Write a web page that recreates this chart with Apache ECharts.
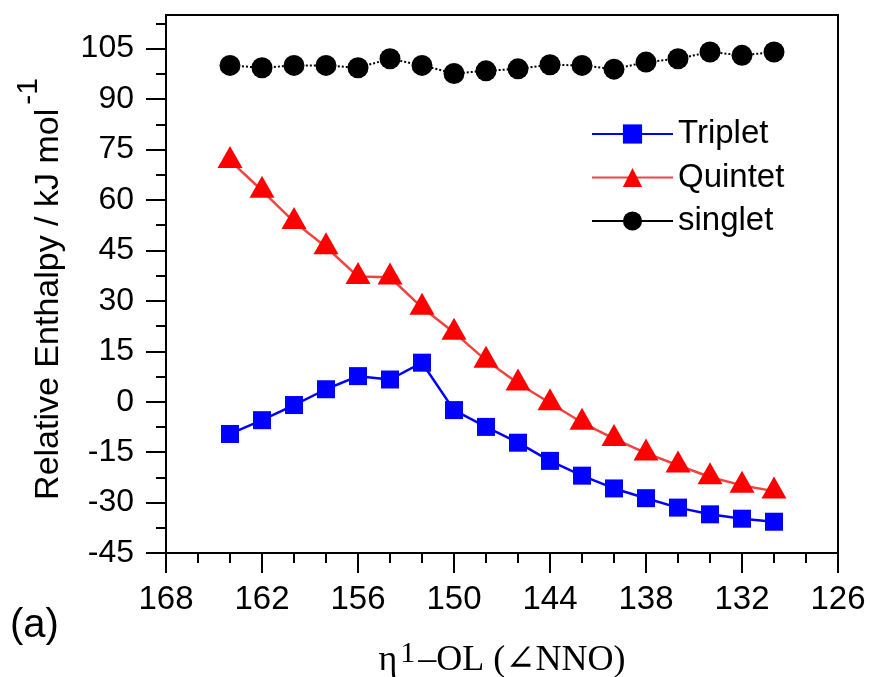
<!DOCTYPE html>
<html>
<head>
<meta charset="utf-8">
<script src="https://cdn.jsdelivr.net/npm/echarts@6/dist/echarts.min.js"></script>
<style>
  html, body { margin: 0; padding: 0; background: #ffffff; }
  #chart { width: 870px; height: 677px; }
</style>
</head>
<body>
<div id="chart"></div>
<script>
// N-N-O angle (degrees) for each optimised geometry
const angles = [164, 162, 160, 158, 156, 154, 152, 150, 148, 146, 144, 142, 140, 138, 136, 134, 132, 130];

// Relative enthalpies, kJ/mol
const triplet = [-9.6, -5.5, -1.0, 3.7, 7.6, 6.6, 11.6, -2.5, -7.5, -12.2, -17.6, -22.0, -25.8, -28.7, -31.5, -33.5, -34.8, -35.7];
const quintet = [71.7, 62.8, 53.5, 46.0, 37.2, 37.0, 28.0, 20.6, 12.3, 5.5, -0.4, -6.2, -11.0, -15.3, -18.9, -22.4, -24.9, -26.6];
const singlet = [100.0, 99.3, 100.0, 100.0, 99.3, 102.0, 100.0, 97.6, 98.4, 99.0, 100.2, 100.0, 98.9, 101.0, 102.0, 104.0, 103.0, 104.0];

// Axis ticks
const yMajorTicks = [-45, -30, -15, 0, 15, 30, 45, 60, 75, 90, 105];
const yMinorTicks = [-37.5, -22.5, -7.5, 7.5, 22.5, 37.5, 52.5, 67.5, 82.5, 97.5, 112.5];

const SANS = '"Liberation Sans", Arial, Helvetica, sans-serif';
const SERIF = '"Liberation Serif", "Times New Roman", "DejaVu Serif", serif';

const pairs = (ys) => angles.map((a, i) => [a, ys[i]]);

const chart = echarts.init(document.getElementById('chart'), null, { renderer: 'canvas' });

chart.setOption({
  animation: false,
  backgroundColor: '#ffffff',
  grid: {
    left: 166, right: 32, top: 15, bottom: 124,
    outerBoundsMode: 'none',
    containLabel: false,
    show: true, borderColor: '#000', borderWidth: 2, backgroundColor: 'transparent'
  },
  legend: {
    orient: 'vertical',
    left: 586, top: 112,
    itemWidth: 81, itemHeight: 24, itemGap: 9.5,
    textStyle: { fontFamily: SANS, fontSize: 33, color: '#000', lineHeight: 34 },
    data: [
      { name: 'Triplet' },
      { name: 'Quintet' },
      { name: 'singlet', lineStyle: { type: 'solid', width: 2 } }
    ]
  },
  xAxis: {
    type: 'value',
    inverse: true,
    min: 126, max: 168, interval: 6,
    axisLine: { onZero: false, lineStyle: { color: '#000', width: 2 } },
    axisTick: { show: true, inside: false, length: 20, lineStyle: { color: '#000', width: 2 } },
    minorTick: { show: true, splitNumber: 3, length: 10, lineStyle: { color: '#000', width: 2 } },
    splitLine: { show: false },
    axisLabel: { fontFamily: SANS, fontSize: 33, color: '#000', margin: 30 },
    name: '{m|η}{s|1}{m|–OL (∠NNO)}',
    nameLocation: 'middle',
    nameGap: 86,
    nameTextStyle: {
      rich: {
        m: { fontFamily: SERIF, fontSize: 36, lineHeight: 40, color: '#000', verticalAlign: 'bottom' },
        s: { fontFamily: SERIF, fontSize: 30, lineHeight: 30, color: '#000', verticalAlign: 'bottom', padding: [0, 3, 10, 3] }
      }
    }
  },
  yAxis: [
    {
      type: 'value',
      min: -45, max: 115,
      axisLine: { onZero: false, lineStyle: { color: '#000', width: 2 } },
      axisTick: { show: true, inside: false, length: 20, customValues: yMajorTicks, lineStyle: { color: '#000', width: 2 } },
      splitLine: { show: false },
      axisLabel: { fontFamily: SANS, fontSize: 32, color: '#000', margin: 32, customValues: yMajorTicks },
      name: '{m|Relative Enthalpy / kJ mol}{s|-1}',
      nameLocation: 'middle',
      nameRotate: 90,
      nameGap: 100,
      nameTextStyle: {
        padding: [0, 10, 0, 0],
        rich: {
          m: { fontFamily: SANS, fontSize: 34, lineHeight: 40, color: '#000', verticalAlign: 'bottom' },
          s: { fontFamily: SANS, fontSize: 30, lineHeight: 30, color: '#000', verticalAlign: 'bottom', padding: [0, 0, 22, 4] }
        }
      }
    },
    {
      // minor ticks on the left axis
      type: 'value',
      position: 'left',
      min: -45, max: 115,
      axisLine: { show: false, onZero: false },
      axisLabel: { show: false },
      splitLine: { show: false },
      axisTick: { show: true, inside: false, length: 10, customValues: yMinorTicks, lineStyle: { color: '#000', width: 2 } }
    }
  ],
  series: [
    {
      name: 'singlet',
      type: 'line',
      data: pairs(singlet),
      symbol: 'circle',
      symbolSize: 21,
      itemStyle: { color: '#000' },
      lineStyle: { color: '#000', width: 2, type: 'dotted' },
      z: 2
    },
    {
      name: 'Quintet',
      type: 'line',
      data: pairs(quintet),
      symbol: 'triangle',
      symbolSize: [25, 22],
      symbolOffset: [0, '-16.7%'],
      itemStyle: { color: '#ff0000' },
      lineStyle: { color: '#f04444', width: 2.5 },
      z: 3
    },
    {
      name: 'Triplet',
      type: 'line',
      data: pairs(triplet),
      symbol: 'rect',
      symbolSize: 18,
      itemStyle: { color: '#0000ff' },
      lineStyle: { color: '#0000ff', width: 2.5 },
      z: 4
    }
  ],
  graphic: [
    {
      type: 'text',
      left: 10, top: 606,
      style: { text: '(a)', font: '40px ' + SANS, fill: '#000' }
    }
  ]
});
</script>
</body>
</html>
